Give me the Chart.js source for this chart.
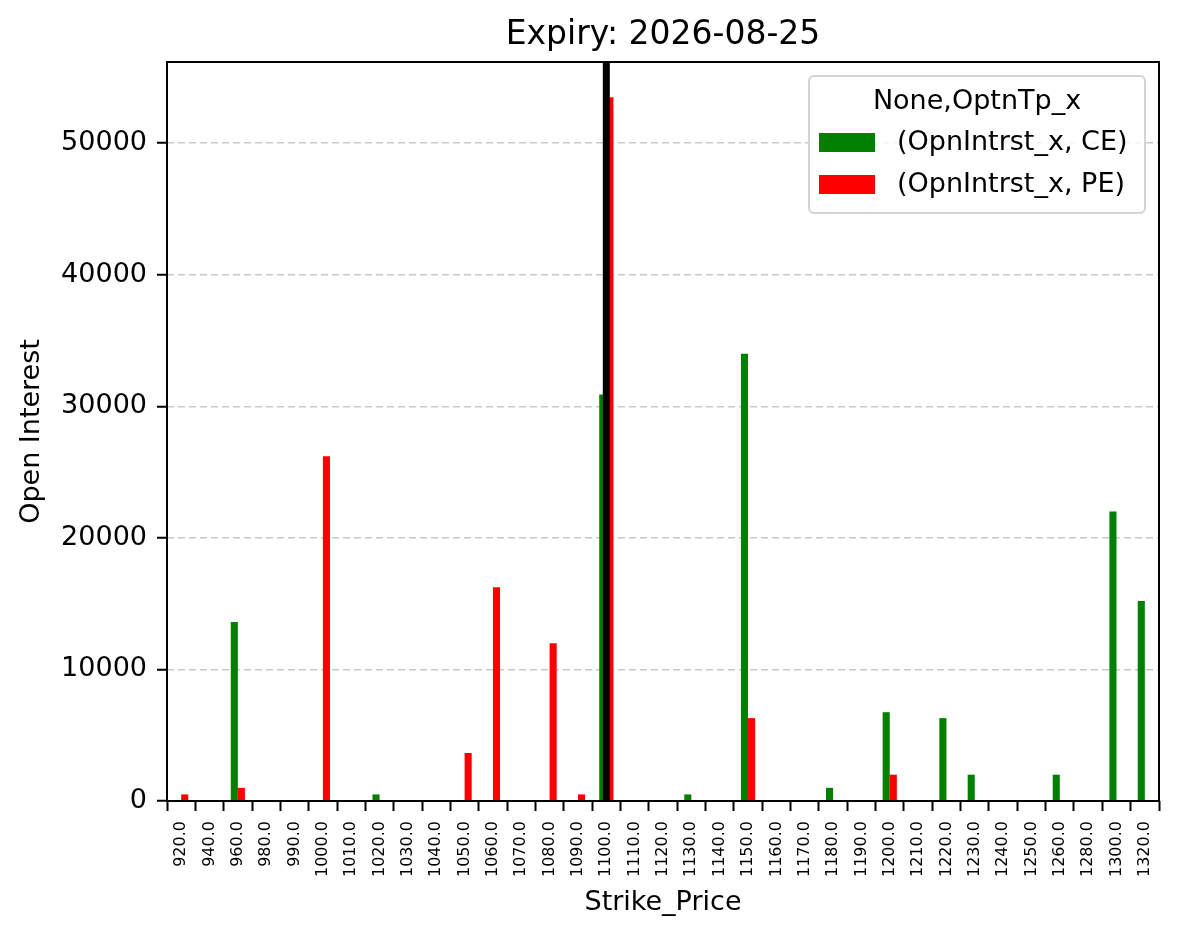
<!DOCTYPE html>
<html>
<head>
<meta charset="utf-8">
<script src="https://cdn.jsdelivr.net/npm/chart.js@4.4.1/dist/chart.umd.min.js"></script>
<style>
  html, body { margin: 0; padding: 0; background: #fff; }
  #wrap { width: 1179px; height: 939px; }
</style>
</head>
<body>
<div id="wrap"><canvas id="oiChart" width="1179" height="939"></canvas></div>
<script>
// strike prices on the x axis
const strikes = ['920.0', '940.0', '960.0', '980.0', '990.0', '1000.0', '1010.0', '1020.0', '1030.0',
    '1040.0', '1050.0', '1060.0', '1070.0', '1080.0', '1090.0', '1100.0', '1110.0', '1120.0',
    '1130.0', '1140.0', '1150.0', '1160.0', '1170.0', '1180.0', '1190.0', '1200.0', '1210.0',
    '1220.0', '1230.0', '1240.0', '1250.0', '1260.0', '1280.0', '1300.0', '1320.0'];

// open interest, calls
const ceOI = [0, 0, 13600, 0, 0, 0, 0, 500, 0,
    0, 0, 0, 0, 0, 0, 30900, 0, 0,
    500, 0, 34000, 0, 0, 1000, 0, 6750, 0,
    6300, 2000, 0, 0, 2000, 0, 22000, 15200];

// open interest, puts
const peOI = [500, 0, 1000, 0, 0, 26200, 0, 0, 0,
    0, 3650, 16250, 0, 12000, 500, 53500, 0, 0,
    0, 0, 6300, 0, 0, 0, 0, 2000, 0,
    0, 0, 0, 0, 0, 0, 0, 0];

const yTicks = [0, 10000, 20000, 30000, 40000, 50000];
const spotStrike = '1100.0';
const chartTitle = 'Expiry: 2026-08-25';
const legendTitle = 'None,OptnTp_x';

const FONT = "'DejaVu Sans', sans-serif";

// title over the axes, frame, spot line and legend box (matplotlib style)
const extrasPlugin = {
    id: 'extras',
    afterDatasetsDraw(chart) {
        const ctx = chart.ctx;
        const area = chart.chartArea;
        const x = chart.scales.x.getPixelForValue(strikes.indexOf(spotStrike));

        ctx.save();
        ctx.fillStyle = '#000';
        ctx.fillRect(x - 3.5, area.top, 7, area.bottom - area.top);

        ctx.strokeStyle = '#000';
        ctx.lineWidth = 2;
        ctx.strokeRect(area.left, area.top, area.right - area.left, area.bottom - area.top);

        ctx.font = '33px ' + FONT;
        ctx.textAlign = 'center';
        ctx.textBaseline = 'middle';
        ctx.fillText(chartTitle, (area.left + area.right) / 2, 35);

        // legend
        const bx = 809, by = 76, bw = 336, bh = 137;
        ctx.fillStyle = 'rgba(255,255,255,0.8)';
        ctx.strokeStyle = '#d4d4d4';
        ctx.lineWidth = 2;
        ctx.beginPath();
        ctx.roundRect(bx, by, bw, bh, 5);
        ctx.fill();
        ctx.stroke();

        ctx.fillStyle = '#000';
        ctx.font = '27px ' + FONT;
        ctx.textAlign = 'center';
        ctx.fillText(legendTitle, bx + bw / 2, by + 26);
        ctx.textAlign = 'left';
        chart.data.datasets.forEach((ds, i) => {
            const ry = by + 57 + i * 42;
            ctx.fillStyle = ds.backgroundColor;
            ctx.fillRect(bx + 10, ry, 56, 19);
            ctx.fillStyle = '#000';
            ctx.fillText(ds.label, bx + 88, ry + 10);
        });
        ctx.restore();
    }
};

function createChart() {
    const ctx = document.getElementById('oiChart').getContext('2d');
    new Chart(ctx, {
        type: 'bar',
        data: {
            labels: strikes,
            datasets: [
                { label: '(OpnIntrst_x, CE)', data: ceOI, backgroundColor: '#008000' },
                { label: '(OpnIntrst_x, PE)', data: peOI, backgroundColor: '#ff0000' }
            ]
        },
        options: {
            responsive: false,
            animation: false,
            layout: { padding: { top: 62, right: 20, bottom: 0, left: 0 } },
            datasets: { bar: { categoryPercentage: 0.5, barPercentage: 1.0 } },
            plugins: {
                legend: { display: false },
                tooltip: { enabled: false },
                title: { display: false }
            },
            scales: {
                x: {
                    offset: true,
                    grid: { display: true, drawOnChartArea: false, drawTicks: true, tickLength: 10, tickColor: '#000', tickWidth: 2 },
                    border: { display: false },
                    ticks: {
                        color: '#000', minRotation: 90, maxRotation: 90, autoSkip: false, padding: 10,
                        font: { family: FONT, size: 16 }
                    },
                    title: {
                        display: true, text: 'Strike_Price', color: '#000',
                        font: { family: FONT, size: 27 }, padding: { top: 0, bottom: 20 }
                    },
                    afterFit: s => { s.height = 138; }
                },
                y: {
                    min: 0,
                    max: 56175,
                    afterBuildTicks: s => { s.ticks = yTicks.map(v => ({ value: v })); },
                    grid: { color: '#c8c8c8', lineWidth: 1.5, tickColor: '#000', tickLength: 10, tickWidth: 2, tickBorderDash: [] },
                    border: { display: false, dash: [7, 4] },
                    ticks: {
                        color: '#000', padding: 10, font: { family: FONT, size: 27 },
                        callback: v => String(v)
                    },
                    title: {
                        display: true, text: 'Open Interest', color: '#000',
                        font: { family: FONT, size: 27 }, padding: { top: 16, bottom: 0 }
                    },
                    afterFit: s => { s.width = 167; }
                }
            }
        },
        plugins: [extrasPlugin]
    });
}

document.addEventListener('DOMContentLoaded', createChart);
</script>
</body>
</html>
